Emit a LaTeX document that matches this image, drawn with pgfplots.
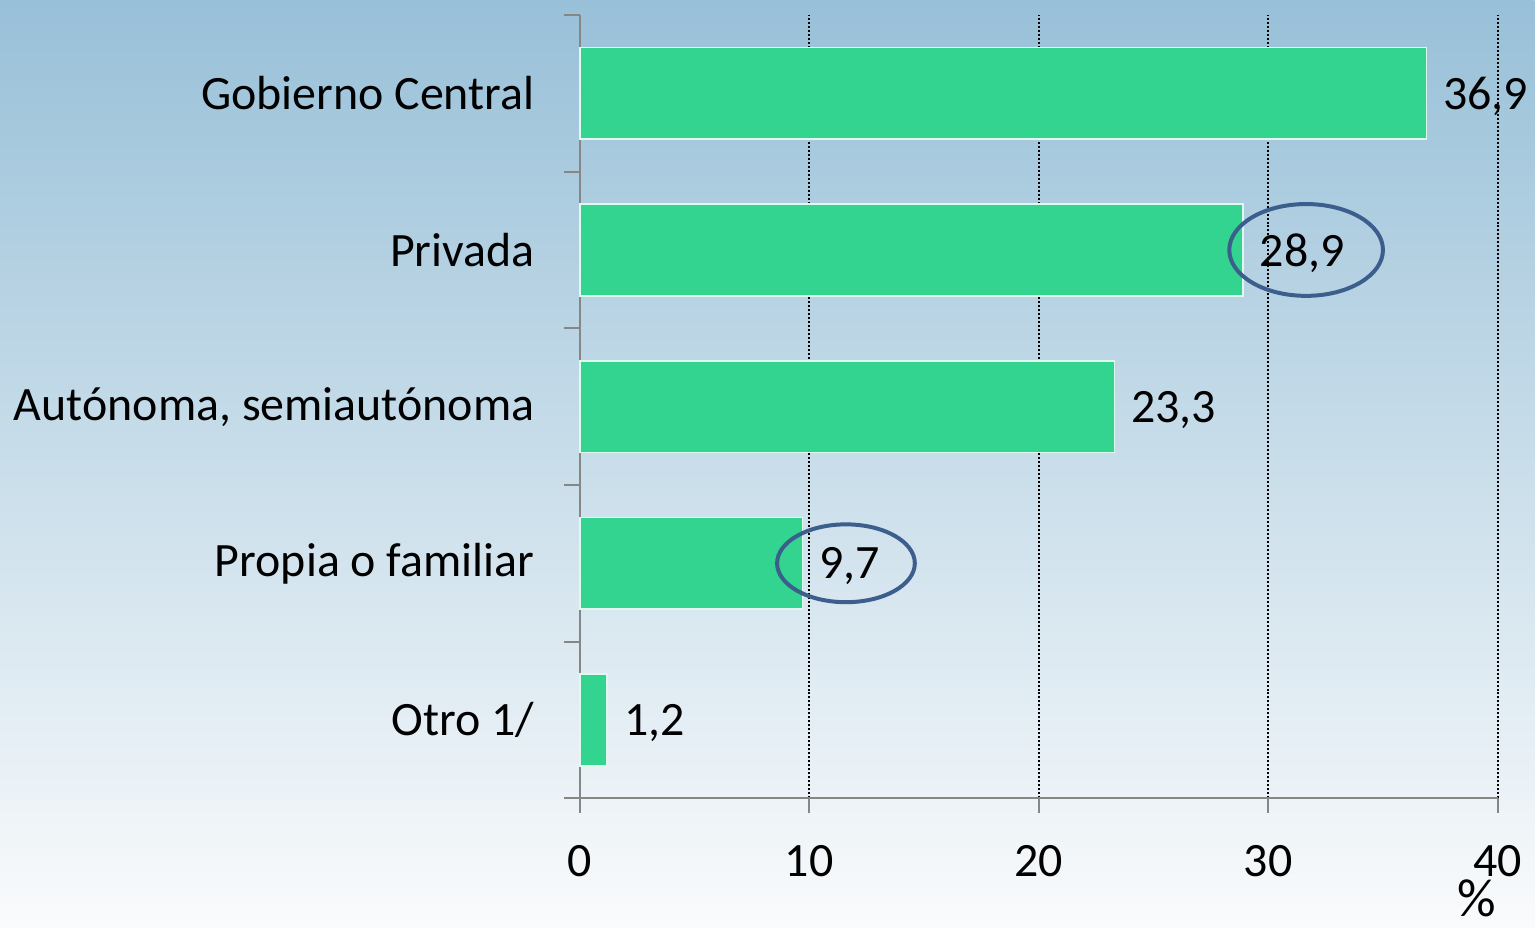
\documentclass[border=0pt]{standalone}
\usepackage{pgfplots}
\pgfplotsset{compat=1.18}
\usepackage{fontspec}
\setmainfont{Carlito}
\definecolor{barc}{RGB}{50,212,143}
\definecolor{ellc}{RGB}{59,94,140}
\definecolor{axc}{RGB}{134,134,134}
\definecolor{bgtop}{RGB}{152,192,216}
\definecolor{bgbot}{RGB}{250,251,252}
\begin{document}
\fontsize{24}{29}\selectfont
\begin{tikzpicture}
\shade[top color=bgtop, bottom color=bgbot] (-290.5pt,-65pt) rectangle (478.5pt,400pt);
\begin{axis}[
  at={(0,0)}, anchor=south west,
  scale only axis, width=460pt, height=392.5pt,
  xbar, bar width=46pt,
  xmin=0, xmax=40, ymin=-0.5, ymax=4.5,
  clip=false,
  axis lines*=left,
  axis line style={draw=axc, line width=1pt},
  xtick={0,10,20,30,40},
  ytick={0,1,2,3,4},
  yticklabels={Otro 1/, Propia o familiar, {Autónoma, semiautónoma}, Privada, Gobierno Central},
  minor ytick={-0.5,0.5,1.5,2.5,3.5,4.5},
  tick align=outside,
  major tick style={draw=axc, line width=1pt},
  minor tick style={draw=axc, line width=1pt},
  ytick style={draw=none},
  minor y tick style={draw=axc, line width=1pt},
  major tick length=7.5pt, minor tick length=8pt,
  xmajorgrids,
  grid style={black, line width=1.1pt, dash pattern=on 1pt off 1pt},
  /pgf/number format/assume math mode=true,
  xticklabel style={yshift=-8pt, text=black},
  yticklabel style={text=black, inner sep=0pt, xshift=-15pt},
  nodes near coords,
  nodes near coords style={anchor=west, inner sep=0pt, xshift=8pt, yshift=-1.5pt, text=black,
    /pgf/number format/.cd, fixed, fixed zerofill, precision=1, use comma, assume math mode=true},
  point meta=explicit,
]
\addplot[fill=barc, draw=white!85!barc, line width=0.8pt] coordinates {
  (1.2,0) [1.2]
  (9.7,1) [9.7]
  (23.3,2) [23.3]
  (28.9,3) [28.9]
  (36.9,4) [36.9]
};
\draw[ellc, line width=2pt] (axis cs:31.65,3) ellipse [x radius=38.5pt, y radius=23pt];
\draw[ellc, line width=2pt] (axis cs:11.6,1) ellipse [x radius=34.5pt, y radius=19.5pt];
\end{axis}
\node[inner sep=0pt, font=\fontsize{27}{32}\selectfont] at (449.5pt,-50pt) {\%};
\end{tikzpicture}
\end{document}
